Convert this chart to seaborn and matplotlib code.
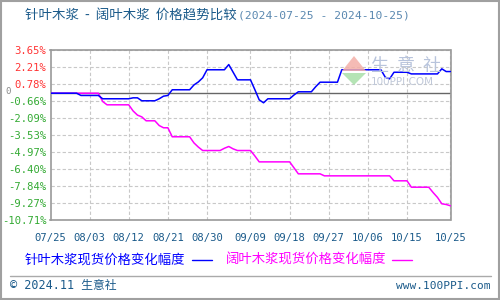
import matplotlib
matplotlib.use("Agg")
import matplotlib.pyplot as plt
import matplotlib.transforms as mtransforms
from matplotlib.patches import Rectangle, Polygon
from matplotlib.lines import Line2D
import seaborn as sns
import pandas as pd

# ---------------- data ----------------
title_main = "针叶木浆  -  阔叶木浆  价格趋势比较"
title_dates = "(2024-07-25 - 2024-10-25)"
series_names = ["针叶木浆现货价格变化幅度", "阔叶木浆现货价格变化幅度"]

blue_dates = ["2024-07-25", "2024-07-31", "2024-08-01", "2024-08-05", "2024-08-06",
              "2024-08-12", "2024-08-13", "2024-08-14", "2024-08-15", "2024-08-18",
              "2024-08-19", "2024-08-20", "2024-08-21", "2024-08-22", "2024-08-26",
              "2024-08-27", "2024-08-28", "2024-08-29", "2024-08-30", "2024-09-03",
              "2024-09-04", "2024-09-06", "2024-09-09", "2024-09-10", "2024-09-11",
              "2024-09-12", "2024-09-13", "2024-09-18", "2024-09-19", "2024-09-20",
              "2024-09-23", "2024-09-24", "2024-09-25", "2024-09-29", "2024-09-30",
              "2024-10-09", "2024-10-10", "2024-10-11", "2024-10-12", "2024-10-15",
              "2024-10-16", "2024-10-22", "2024-10-23", "2024-10-24", "2024-10-25"]
blue_values = [0.00, 0.00, -0.19, -0.19, -0.47,
               -0.47, -0.39, -0.39, -0.64, -0.64,
               -0.47, -0.25, -0.19, 0.29, 0.29,
               0.70, 0.95, 1.30, 1.98, 1.98,
               2.42, 1.13, 1.13, 0.30, -0.56,
               -0.81, -0.47, -0.47, -0.15, 0.12,
               0.12, 0.55, 0.93, 0.93, 1.98,
               1.98, 1.35, 1.21, 1.77, 1.77,
               1.63, 1.63, 2.06, 1.83, 1.83]

mag_dates = ["2024-07-25", "2024-08-05", "2024-08-06", "2024-08-07", "2024-08-12",
             "2024-08-13", "2024-08-14", "2024-08-15", "2024-08-16", "2024-08-18",
             "2024-08-19", "2024-08-20", "2024-08-21", "2024-08-22", "2024-08-26",
             "2024-08-27", "2024-08-28", "2024-08-29", "2024-09-02", "2024-09-03",
             "2024-09-04", "2024-09-05", "2024-09-06", "2024-09-09", "2024-09-10",
             "2024-09-11", "2024-09-18", "2024-09-19", "2024-09-20", "2024-09-25",
             "2024-09-26", "2024-10-11", "2024-10-12", "2024-10-15", "2024-10-16",
             "2024-10-20", "2024-10-21", "2024-10-22", "2024-10-23", "2024-10-24",
             "2024-10-25"]
mag_values = [0.00, 0.00, -0.70, -0.98, -0.98,
              -1.50, -1.85, -2.00, -2.33, -2.33,
              -2.73, -2.92, -2.92, -3.68, -3.68,
              -4.20, -4.55, -4.84, -4.84, -4.65,
              -4.50, -4.70, -4.84, -4.84, -5.30,
              -5.80, -5.80, -6.30, -6.81, -6.81,
              -6.98, -6.98, -7.40, -7.40, -7.94,
              -7.94, -8.39, -8.80, -9.34, -9.40,
              -9.51]

y_ticks = [3.65, 2.21, 0.78, -0.66, -2.09, -3.53, -4.97, -6.40, -7.84, -9.27, -10.71]
y_labels = ["3.65%", "2.21%", "0.78%", "-0.66%", "-2.09%", "-3.53%", "-4.97%",
            "-6.40%", "-7.84%", "-9.27%", "-10.71%"]
x_ticks = ["2024-07-25", "2024-08-03", "2024-08-12", "2024-08-21", "2024-08-30",
           "2024-09-09", "2024-09-18", "2024-09-27", "2024-10-06", "2024-10-15",
           "2024-10-25"]
x_labels = ["07/25", "08/03", "08/12", "08/21", "08/30", "09/09", "09/18",
            "09/27", "10/06", "10/15", "10/25"]

# ---------------- styling ----------------
sns.set_theme(style="white")
plt.rcParams['font.family'] = ['DejaVu Sans Mono', 'Noto Sans CJK SC']
CJK = ['Noto Sans CJK SC', 'DejaVu Sans']
MONO = ['DejaVu Sans Mono', 'Noto Sans CJK SC']

BLUE = "#0000ff"
MAGENTA = "#ff00ff"
GRID = "#c8c8c8"
SPINE = "#999999"
TXT = "#1a5a8a"

fig = plt.figure(figsize=(5, 3), dpi=100)
fig.patch.set_facecolor("white")
ax = fig.add_axes([50.5 / 500, 1 - 220 / 300, 400 / 500, 170 / 300])

df_b = pd.DataFrame({"date": pd.to_datetime(blue_dates), "value": blue_values})
df_m = pd.DataFrame({"date": pd.to_datetime(mag_dates), "value": mag_values})

ax.axhline(0, color="#666666", lw=1.0, zorder=1)
sns.lineplot(data=df_m, x="date", y="value", ax=ax, color=MAGENTA, lw=1.1, zorder=3)
sns.lineplot(data=df_b, x="date", y="value", ax=ax, color=BLUE, lw=1.1, zorder=4)

ax.set_xlim(pd.Timestamp(x_ticks[0]), pd.Timestamp(x_ticks[-1]))
ax.set_ylim(y_ticks[-1], y_ticks[0])
ax.set_xlabel("")
ax.set_ylabel("")

ax.set_yticks(y_ticks)
ax.set_yticklabels(y_labels)
for lab, v in zip(ax.get_yticklabels(), y_ticks):
    lab.set_color("#ff3333" if v > 0 else "#33aa33")
    lab.set_fontsize(7.6)
    lab.set_fontfamily(MONO)

ax.set_xticks(pd.to_datetime(x_ticks))
ax.set_xticklabels(x_labels)
for lab in ax.get_xticklabels():
    lab.set_color(TXT)
    lab.set_fontsize(7.6)
    lab.set_fontfamily(MONO)

ax.tick_params(axis="y", length=0, pad=3)
ax.tick_params(axis="x", length=0, pad=9)

ax.grid(True, color=GRID, linestyle=(0, (3, 2)), lw=0.8)
for s in ax.spines.values():
    s.set_color(SPINE)
    s.set_linewidth(1.2)

# the "0" label
tr = mtransforms.blended_transform_factory(fig.transFigure, ax.transData)
fig.text(5 / 500, 0.15, "0", transform=tr, fontsize=6.5, color="#888888",
         ha="left", va="center", family=MONO)

# watermark
wx = lambda px: px / 500
wy = lambda py: 1 - py / 300
fig.patches.append(Polygon([[wx(342), wy(71)], [wx(354), wy(56)], [wx(366), wy(71)]],
                           closed=True, transform=fig.transFigure,
                           facecolor="#f4b0a8", edgecolor="none", alpha=0.85))
fig.patches.append(Polygon([[wx(342), wy(73)], [wx(366), wy(73)], [wx(354), wy(85)]],
                           closed=True, transform=fig.transFigure,
                           facecolor="#a8e0a8", edgecolor="none", alpha=0.85))
fig.text(wx(371), wy(66), "生  意  社", fontsize=13, color="#b8c4dc",
         family=CJK, ha="left", va="center")
fig.text(wx(371), wy(82), "100PPI.COM", fontsize=7.5, color="#c0c8d8",
         family=['DejaVu Sans'], ha="left", va="center")

# title
t1 = fig.text(25 / 500, 1 - 16 / 300, title_main, fontsize=9.7, color=TXT,
              family=CJK, ha="left", va="center")
fig.canvas.draw()
bb = t1.get_window_extent()
fig.text(bb.x1 / 500 + 0.002, 1 - 16 / 300, title_dates, fontsize=8.2, color="#5a88b0",
         family=MONO, ha="left", va="center")

# legend
ly = 1 - 260 / 300
fig.text(25 / 500, ly, series_names[0], fontsize=9.6, color=BLUE, family=CJK,
         ha="left", va="center")
fig.lines.append(Line2D([192 / 500, 212 / 500], [ly, ly], transform=fig.transFigure,
                        color=BLUE, lw=1.0))
fig.text(226 / 500, ly, series_names[1], fontsize=9.6, color=MAGENTA, family=CJK,
         ha="left", va="center")
fig.lines.append(Line2D([392 / 500, 412 / 500], [ly, ly], transform=fig.transFigure,
                        color=MAGENTA, lw=1.0))

# footer
fig.lines.append(Line2D([10 / 500, 491 / 500], [1 - 276 / 300, 1 - 276 / 300],
                        transform=fig.transFigure, color="#aaaaaa", lw=1.0))
fig.text(10 / 500, 1 - 286 / 300, "© 2024.11 生意社", fontsize=8.5, color=TXT,
         family=MONO, ha="left", va="center")
fig.text(490 / 500, 1 - 286 / 300, "www.100PPI.com", fontsize=8, color=TXT,
         family=MONO, ha="right", va="center")

# outer border
fig.patches.append(Rectangle((0.001, 0.002), 0.997, 0.995, transform=fig.transFigure,
                             fill=False, edgecolor="#a0a0a0", lw=1.5))

fig.savefig("out.png", dpi=100)
